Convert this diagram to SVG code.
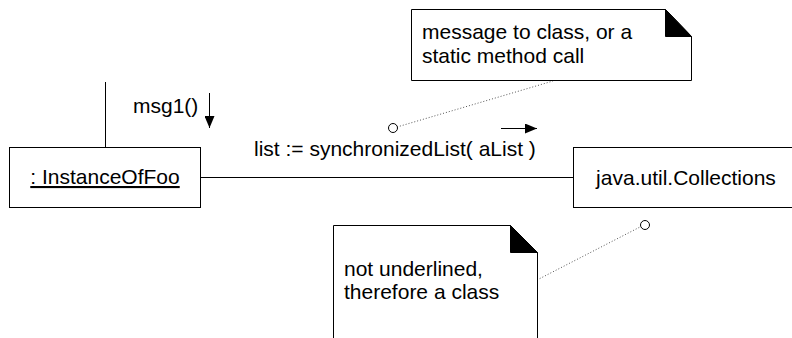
<svg xmlns="http://www.w3.org/2000/svg" width="792" height="338" viewBox="0 0 792 338">
<style>
text { font-family: "Liberation Sans", Arial, sans-serif; font-size: 21px; fill: #000; }
.box { fill: #fff; stroke: #000; stroke-width: 1; }
.note { fill: #fff; stroke: #000; stroke-width: 1; }
.fold { fill: #000; stroke: #000; stroke-width: 1; }
.line { fill: none; stroke: #000; stroke-width: 1; }
.dot { fill: none; stroke: #555; stroke-width: 1; stroke-dasharray: 1 2; }
.anchor { fill: #fff; stroke: #000; stroke-width: 1; }
</style>
<defs>
<marker id="ah" markerWidth="12" markerHeight="10" refX="12" refY="5" orient="auto" markerUnits="userSpaceOnUse">
<path d="M0,0 L12,5 L0,10 Z" fill="#000"/>
</marker>
</defs>
<g id="connectors">
<line class="line" x1="105.5" y1="82" x2="105.5" y2="147"/>
<line class="line" x1="201" y1="177.5" x2="573" y2="177.5"/>
<line class="dot" x1="397" y1="127" x2="553" y2="81"/>
<line class="dot" x1="537" y1="280" x2="640" y2="227"/>
</g>
<g id="foo">
<rect class="box" x="9.5" y="147.5" width="191" height="60"/>
<text x="105" y="184" text-anchor="middle" text-decoration="underline">: InstanceOfFoo</text>
</g>
<g id="collections">
<rect class="box" x="573.5" y="147.5" width="226" height="60"/>
<text x="686" y="185" text-anchor="middle">java.util.Collections</text>
</g>
<g id="msg1">
<text x="133" y="113">msg1()</text>
<line class="line" x1="209.5" y1="93" x2="209.5" y2="128" marker-end="url(#ah)"/>
</g>
<g id="msg2">
<text x="254" y="156">list := synchronizedList( aList )</text>
<line class="line" x1="501" y1="128.5" x2="537" y2="128.5" marker-end="url(#ah)"/>
</g>
<g id="note1">
<polygon class="note" points="411.5,9.5 665.5,9.5 691.5,36.5 691.5,80.5 411.5,80.5"/>
<polygon class="fold" points="665.5,9.5 691.5,36.5 665.5,36.5"/>
<text x="422" y="39">message to class, or a</text>
<text x="422" y="63">static method call</text>
<circle class="anchor" cx="393" cy="128" r="4.5"/>
</g>
<g id="note2">
<polygon class="note" points="333.5,225.5 510.5,225.5 537.5,252.5 537.5,345 333.5,345"/>
<polygon class="fold" points="510.5,225.5 537.5,252.5 510.5,252.5"/>
<text x="344" y="276">not underlined,</text>
<text x="344" y="299">therefore a class</text>
<circle class="anchor" cx="645" cy="225" r="4.5"/>
</g>
</svg>
